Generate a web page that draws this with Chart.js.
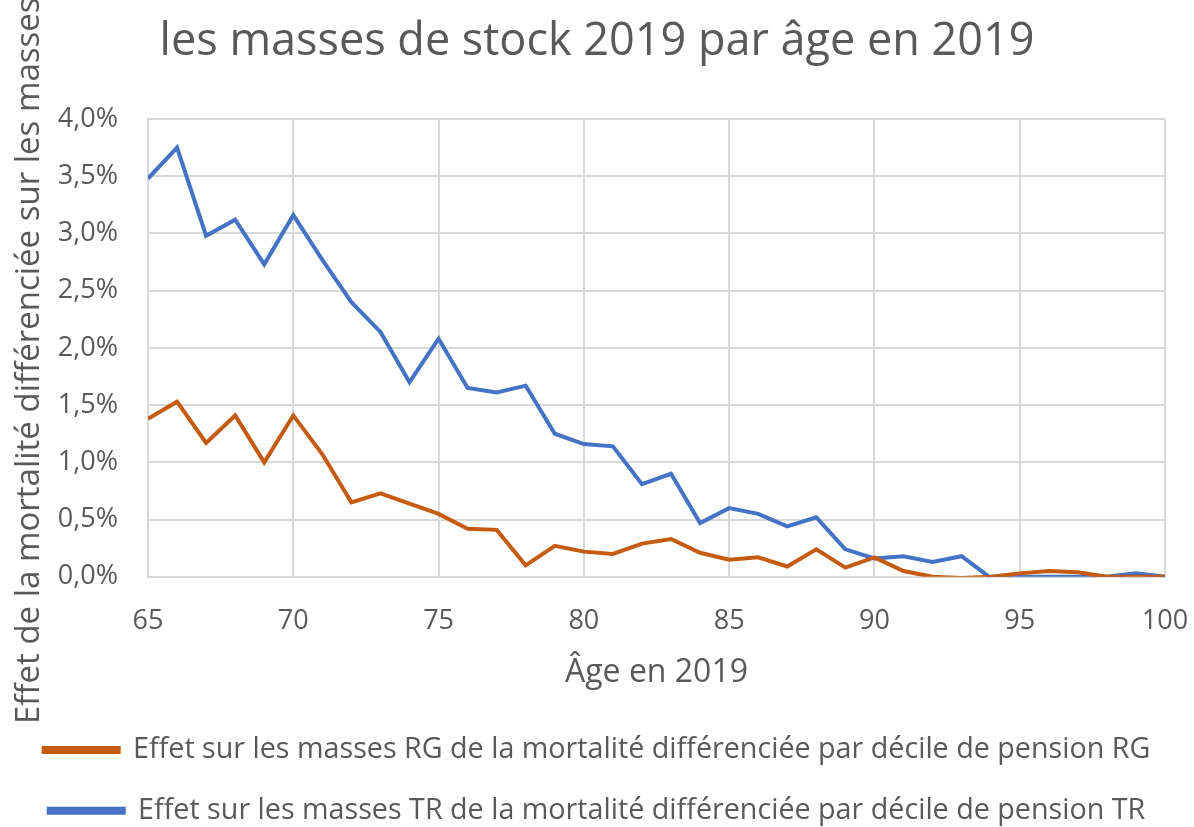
<!DOCTYPE html>
<html>
<head>
<meta charset="utf-8">
<script src="https://cdn.jsdelivr.net/npm/chart.js@4.4.1/dist/chart.umd.min.js"></script>
<style>
  html, body { margin: 0; padding: 0; background: #fff; }
  #wrap { width: 1194px; height: 827px; }
</style>
</head>
<body>
<div id="wrap"><canvas id="myChart"></canvas></div>
<script>
// ages 65..100
const ages = [
  65, 66, 67, 68, 69, 70, 71, 72, 73, 74, 75, 76, 77, 78, 79, 80, 81, 82,
  83, 84, 85, 86, 87, 88, 89, 90, 91, 92, 93, 94, 95, 96, 97, 98, 99, 100,
];
// effet en %
const rgValues = [
  1.38, 1.53, 1.17, 1.41, 1.0, 1.41, 1.07, 0.65, 0.73, 0.64, 0.55, 0.42, 0.41,
  0.1, 0.27, 0.22, 0.2, 0.29, 0.33, 0.21, 0.15, 0.17, 0.09, 0.24, 0.08, 0.17,
  0.05, 0.0, -0.01, 0.0, 0.03, 0.05, 0.04, 0.0, 0.0, 0.0,
];
const trValues = [
  3.48, 3.75, 2.98, 3.12, 2.73, 3.16, 2.77, 2.4, 2.14, 1.7, 2.08, 1.65, 1.61,
  1.67, 1.25, 1.16, 1.14, 0.81, 0.9, 0.47, 0.6, 0.55, 0.44, 0.52, 0.24, 0.16,
  0.18, 0.13, 0.18, -0.01, 0.0, 0.0, 0.0, 0.0, 0.03, 0.0,
];
const xTicks = [65, 70, 75, 80, 85, 90, 95, 100];

const grey = '#595959';
const gridColor = '#d9d9d9';

const toPoints = (vals) => ages.map((a, i) => ({ x: a, y: vals[i] }));

const ctx = document.querySelector('#myChart').getContext('2d');

const data = {
  datasets: [
    {
      label: 'Effet sur les masses RG de la mortalité différenciée par décile de pension RG',
      data: toPoints(rgValues),
      borderColor: '#c55a11',
      backgroundColor: '#c55a11',
      borderWidth: 4,
      pointRadius: 0,
      tension: 0,
    },
    {
      label: 'Effet sur les masses TR de la mortalité différenciée par décile de pension TR',
      data: toPoints(trValues),
      borderColor: '#4472c4',
      backgroundColor: '#4472c4',
      borderWidth: 4,
      pointRadius: 0,
      tension: 0,
    },
  ],
};

const config = {
  type: 'line',
  data: data,
  options: {
    responsive: true,
    maintainAspectRatio: false,
    animation: false,
    layout: { padding: { left: 0, right: 0, top: 0, bottom: -8 } },
    plugins: {
      title: {
        display: true,
        text: 'les masses de stock 2019 par âge en 2019',
        color: grey,
        font: { family: 'Open Sans', size: 45, weight: 'normal' },
        padding: { top: 15, bottom: 50 },
      },
      legend: {
        position: 'bottom',
        labels: {
          color: grey,
          boxWidth: 75,
          boxHeight: 4,
          padding: 32,
          font: { family: 'Open Sans', size: 28.7 },
        },
      },
      tooltip: { enabled: false },
    },
    scales: {
      x: {
        type: 'linear',
        min: 65,
        max: 100,
        afterBuildTicks: (axis) => {
          axis.ticks = xTicks.map((v) => ({ value: v }));
        },
        afterFit: (axis) => {
          axis.paddingRight = 29;
        },
        grid: { color: gridColor, lineWidth: 2, drawTicks: false },
        border: { color: gridColor, width: 2 },
        ticks: {
          color: grey,
          padding: 28,
          maxRotation: 0,
          font: { family: 'Open Sans', size: 27 },
        },
        title: {
          display: true,
          text: 'Âge en 2019',
          color: grey,
          font: { family: 'Open Sans', size: 32 },
          padding: { top: -12, bottom: 12 },
        },
      },
      y: {
        min: 0,
        max: 4,
        afterFit: (axis) => {
          axis.width = 148;
        },
        grid: { color: gridColor, lineWidth: 2, drawTicks: false },
        border: { color: gridColor, width: 2 },
        ticks: {
          stepSize: 0.5,
          color: grey,
          padding: 30,
          font: { family: 'Open Sans', size: 27 },
          callback: function (value) {
            return value.toFixed(1).replace('.', ',') + '%';
          },
        },
        title: {
          display: true,
          // trailing spaces push the text down a bit, like the original
          text: 'Effet de la mortalité différenciée sur les masses   ',
          color: grey,
          font: { family: 'Open Sans', size: 33 },
          padding: { top: 10, bottom: 4 },
        },
      },
    },
  },
  plugins: [],
};

const myChart = new Chart(ctx, config);
</script>
</body>
</html>
